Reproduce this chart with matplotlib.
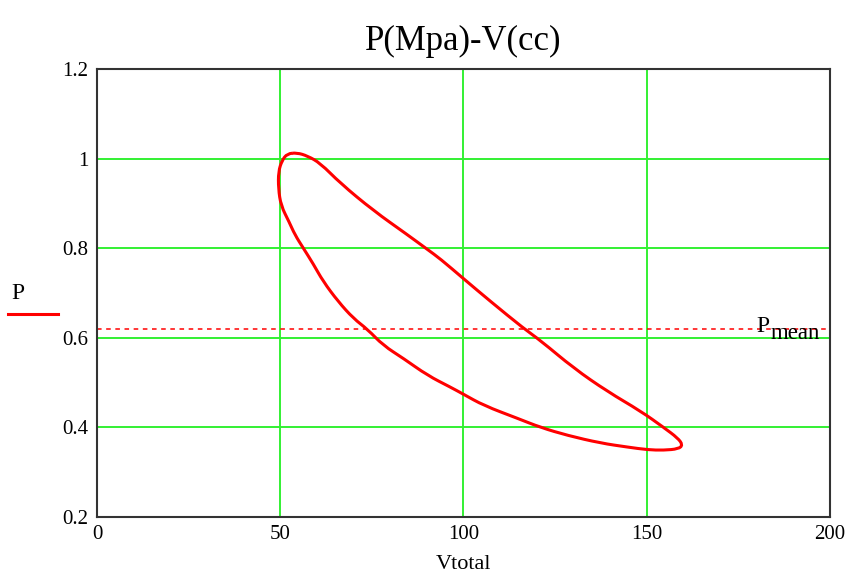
import matplotlib
matplotlib.use('Agg')
import matplotlib.pyplot as plt
from matplotlib.path import Path
from matplotlib.patches import PathPatch

# P-V loop (clockwise, starting near the top)
v_total = [54.6, 57.4, 60.9, 66.4, 75.4, 84.7, 90.2, 93.7, 100.0, 107.4,
           116.4, 121.0, 130.1, 139.3, 148.4, 154.6, 158.5, 159.8, 158.7, 154.6,
           150.3, 144.8, 137.4, 128.4, 121.0, 114.8, 105.5, 100.0, 96.4, 90.2,
           83.6, 78.1, 73.8, 70.0, 65.8, 61.7, 59.0, 56.3, 54.0, 52.4,
           50.2, 49.5, 49.5, 50.5, 51.9]
pressure = [1.013, 1.006, 0.990, 0.945, 0.884, 0.830, 0.797, 0.776, 0.732, 0.681,
            0.621, 0.594, 0.532, 0.480, 0.436, 0.400, 0.376, 0.361, 0.352, 0.349,
            0.350, 0.356, 0.365, 0.382, 0.400, 0.420, 0.449, 0.474, 0.490, 0.516,
            0.554, 0.583, 0.619, 0.643, 0.681, 0.726, 0.765, 0.800, 0.830, 0.859,
            0.895, 0.933, 0.971, 0.996, 1.011]
p_mean = 0.62

x_ticks = [0, 50, 100, 150, 200]
y_ticks = [0.2, 0.4, 0.6, 0.8, 1.0, 1.2]

plt.rcParams['font.family'] = ['Liberation Serif', 'DejaVu Serif']

fig = plt.figure(figsize=(8.53, 5.85), dpi=100)
ax = fig.add_axes([97 / 853, 1 - 517 / 585, (830 - 97) / 853, (517 - 69) / 585])

ax.set_xlim(0, 200)
ax.set_ylim(0.2, 1.2)
ax.set_xticks(x_ticks)
ax.set_yticks(y_ticks)
ax.set_xticklabels([str(t) for t in x_ticks])
ax.set_yticklabels(['0.2', '0.4', '0.6', '0.8', '1', '1.2'])
ax.tick_params(length=0, labelsize=15, pad=6)

for t in x_ticks[1:-1]:
    ax.axvline(t, color='#33f033', lw=1.4, zorder=1)
for t in y_ticks[1:-1]:
    ax.axhline(t, color='#33f033', lw=1.4, zorder=1)

for s in ax.spines.values():
    s.set_color('#333333')
    s.set_linewidth(1.5)

ax.axhline(p_mean, color='red', lw=1.1, ls=(0, (3, 3)), zorder=2)

# closed loop drawn as a smooth quadratic path through the read points
pts = list(zip(v_total, pressure))
n = len(pts)
mids = [((pts[i][0] + pts[(i + 1) % n][0]) / 2, (pts[i][1] + pts[(i + 1) % n][1]) / 2)
        for i in range(n)]
verts = [mids[-1]]
codes = [Path.MOVETO]
for i in range(n):
    verts += [pts[i], mids[i]]
    codes += [Path.CURVE3, Path.CURVE3]
loop = PathPatch(Path(verts, codes), facecolor='none', edgecolor='red', lw=2.2, zorder=3)
ax.add_patch(loop)

ax.set_title('P(Mpa)-V(cc)', fontsize=25, pad=14)
ax.set_xlabel('Vtotal', fontsize=16, labelpad=8)

# legend-like label on the left (Mathcad style)
fig.text(11 / 853, 1 - 299 / 585, 'P', fontsize=17, ha='left', va='baseline')
fig.add_artist(plt.Line2D([8 / 853, 58 / 853], [1 - 314 / 585, 1 - 314 / 585],
                          color='red', lw=2.2))

# P_mean label at the right
fig.text(756 / 853, 1 - 332 / 585, 'P', fontsize=17, ha='left', va='baseline')
fig.text(771 / 853, 1 - 339 / 585, 'mean', fontsize=16.5, ha='left', va='baseline')

fig.savefig('out.png', dpi=100)
